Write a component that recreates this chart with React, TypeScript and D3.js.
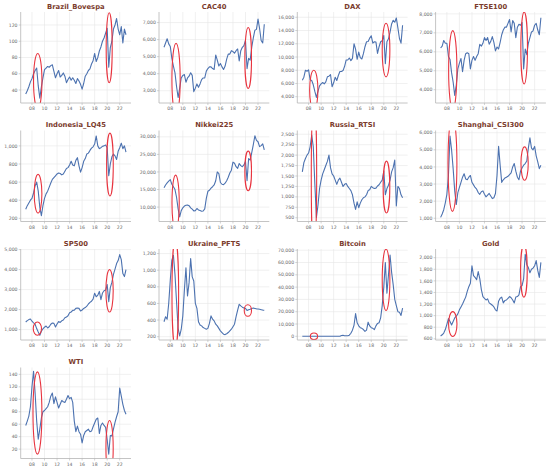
import * as d3 from "d3";
import React from "react";

// quarterly sampling, 2007Q1 .. 2023Q1
const quarters = d3.range(65).map((i) => 2007 + i / 4);
const yearTicks = [2008, 2010, 2012, 2014, 2016, 2018, 2020, 2022];
const yearLabels = ["08", "10", "12", "14", "16", "18", "20", "22"];

const brazil = [
  35, 39, 44, 50, 54, 60, 64, 67, 45, 30, 44, 55, 65, 67, 69, 68,
  70, 71, 63, 55, 60, 64, 56, 58, 61, 57, 49, 53, 56, 52, 55, 52,
  48, 54, 51, 47, 41, 48, 57, 60, 64, 66, 72, 76, 85, 75, 80, 88,
  93, 100, 104, 110, 116, 68, 92, 100, 115, 120, 128, 115, 108, 118, 98, 115,
  108,
];
const cac40 = [
  5550, 5800, 6050, 5750, 5600, 4900, 4450, 4050, 3250, 2600, 3150, 3750, 3900, 3950, 3500, 3750,
  3850, 4050, 3900, 2950, 3150, 3400, 3200, 3400, 3650, 3750, 3750, 4150, 4300, 4400, 4400, 4300,
  4250, 5100, 4800, 4450, 4600, 4400, 4250, 4450, 4850, 5150, 5150, 5350, 5300, 5200, 5350, 5450,
  4750, 5350, 5550, 5650, 5950, 4300, 4900, 4800, 5550, 6100, 6550, 6600, 7200, 6650, 5950, 5800,
  6900,
];
const dax = [
  6500, 6950, 8000, 7850, 8050, 6550, 6450, 5800, 4800, 3900, 4800, 5650, 5950, 6150, 5950, 6250,
  7000, 7100, 7350, 5500, 6100, 6950, 6450, 7200, 7800, 7800, 7950, 8600, 9550, 9550, 9850, 9450,
  9800, 12000, 11200, 9650, 10750, 9900, 9700, 10500, 11550, 12300, 12350, 12850, 13200, 12100, 12300, 12250,
  10550, 11550, 12300, 12450, 13250, 9000, 12300, 12750, 13750, 15000, 15550, 15250, 15900, 14400, 12800, 12100,
  14800,
];
const ftse100 = [
  6200, 6300, 6600, 6450, 6450, 5750, 5600, 4900, 4400, 3700, 4250, 5100, 5400, 5650, 4950, 5550,
  5900, 5950, 5900, 5100, 5550, 5750, 5550, 5750, 5900, 6400, 6300, 6450, 6750, 6600, 6750, 6400,
  6550, 6800, 6500, 6050, 6250, 6150, 6500, 6900, 7150, 7300, 7300, 7500, 7700, 7050, 7650, 7500,
  6750, 7300, 7450, 7400, 7550, 5100, 6150, 5850, 6450, 6750, 7050, 7100, 7400, 7500, 7150, 6900,
  7800,
];
const indonesia = [
  300, 340, 370, 400, 420, 480, 560, 600, 500, 320, 230, 340, 420, 470, 500, 545,
  590, 630, 650, 670, 690, 700, 695, 680, 690, 720, 750, 760, 790, 830, 790, 780,
  840, 870, 780, 710, 760, 830, 860, 910, 920, 950, 975, 990, 1020, 1110, 1000, 970,
  980, 995, 1000, 1010, 980, 670, 800, 880, 910, 890, 850, 940, 980, 1030, 970, 1000,
  930,
];
const nikkei = [
  15500, 16300, 16900, 17400, 17800, 16500, 15800, 15000, 12800, 9500, 7200, 9000, 9800, 10300, 10500, 10600,
  10400, 9800, 9400, 8900, 9000, 9600, 9200, 9000, 8800, 8900, 9500, 12500, 14500, 14800, 15400, 15800,
  16300, 17500, 20000, 19500, 17000, 16500, 16400, 16800, 17500, 18500, 19700, 20500, 22800, 22500, 21500, 21000,
  22400, 21800, 21500, 22000, 23000, 17500, 23800, 23400, 25500, 27800, 30300, 29000, 28600, 27200, 27500, 28000,
  26300,
];
const russia = [
  1600, 1820, 1920, 2000, 2050, 2200, 2480, 2200, 1300, 510, 800, 1200, 1400, 1550, 1650, 1750,
  1850, 2000, 1700, 1550, 1500, 1400, 1300, 1400, 1450, 1350, 1250, 1300, 1320, 1250, 1200, 1150,
  1050, 850, 700, 880, 740, 850, 930, 980, 1000, 1050, 1150, 1170, 1250, 1220, 1200, 1210,
  1260, 1290, 1350, 1400, 1620, 1050, 1200, 1280, 1400, 1600, 1700, 1880, 780, 1250, 1200, 1050,
  980,
];
const shanghai = [
  1050, 1250, 1500, 1900, 2400, 3500, 5800, 5000, 3900, 2600, 1800, 2500, 2800, 3100, 3400, 3600,
  3300, 3250, 3400, 3500, 3100, 2950, 2800, 2700, 2500, 2400, 2550, 2600, 2400, 2250, 2350, 2450,
  2300, 2150, 2200, 2450, 3500, 5200, 4100, 3100, 3250, 3350, 3400, 3450, 3550, 3650, 4000, 4200,
  3750, 3400, 3250, 3750, 3950, 4100, 4200, 4350, 5100, 5700, 5100, 5000, 5200, 4650, 4300, 3900,
  4100,
];
const sp500 = [
  1380, 1450, 1500, 1530, 1420, 1340, 1270, 1050, 880, 720, 920, 1040, 1120, 1180, 1080, 1140,
  1270, 1330, 1310, 1130, 1280, 1400, 1360, 1440, 1480, 1590, 1630, 1690, 1840, 1880, 1960, 1970,
  2060, 2080, 2060, 1930, 1980, 2060, 2100, 2170, 2280, 2360, 2420, 2520, 2820, 2640, 2720, 2910,
  2500, 2830, 2940, 2980, 3250, 2400, 3100, 3360, 3760, 4020, 4300, 4450, 4750, 4500, 3800, 3650,
  4000,
];
const ukraine = [
  380, 440, 410, 600, 880, 1120, 1180, 950, 620, 300, 210, 290, 450, 760, 1030, 690,
  850, 1140, 920, 870, 600, 540, 380, 340, 330, 310, 300, 290, 300, 360, 450, 410,
  390, 350, 330, 300, 270, 250, 230, 225, 235, 250, 270, 290, 320, 350, 440, 520,
  590, 570, 555, 545, 540, 515, 525, 530, 540, 545, 540, 535, 533, 530, 525, 520,
  518,
];
const bitcoin = [
  0, 0, 0, 0, 0, 0, 0, 0, 0, 0, 0, 0, 0, 0, 0, 0,
  0, 0, 0, 0, 0, 0, 0, 0, 100, 600, 800, 500, 400, 500, 900, 2500,
  5000, 9000, 18500, 11000, 8500, 7000, 6500, 5500, 4000, 5000, 11500, 8500, 7000, 6500, 5500, 8500,
  10500, 11000, 15000, 25000, 40000, 60000, 35000, 50000, 66000, 52000, 42000, 30000, 25000, 20000, 19500, 17000,
  23000,
];
const gold = [
  650, 670, 700, 760, 850, 950, 900, 840, 900, 960, 990, 1030, 1100, 1150, 1200, 1260,
  1320, 1420, 1500, 1560, 1860, 1690, 1660, 1620, 1760, 1640, 1450, 1330, 1300, 1270, 1290, 1220,
  1200, 1180, 1150, 1100, 1080, 1250, 1300, 1320, 1220, 1260, 1270, 1300, 1330, 1310, 1270, 1220,
  1320, 1330, 1360, 1500, 1520, 1640, 2060, 1880, 1830, 1740, 1800, 1820, 1860, 1950, 1780, 1660,
  1920,
];
const wti = [
  58, 65, 73, 88, 120, 145, 110, 65, 36, 52, 70, 80, 82, 85, 88, 95,
  105, 110, 93, 104, 95, 86, 92, 98, 96, 95, 100, 106, 101, 103, 95, 65,
  48, 57, 48, 44, 30, 42, 48, 50, 52, 48, 49, 56, 62, 68, 70, 45,
  58, 62, 58, 55, 35, 12, 42, 41, 52, 63, 72, 80, 118, 105, 92, 82,
  76,
];

// highlighted periods: centre (t, v) and radii (rt in years, rv in units)
type Ell = { t: number; v: number; rt: number; rv: number };
const brazilRings: Ell[] = [
  { t: 2008.92, v: 51, rt: 0.67, rv: 34 },
  { t: 2020.32, v: 92, rt: 0.48, rv: 43 },
];
const cacRings: Ell[] = [
  { t: 2008.92, v: 3680, rt: 0.66, rv: 2100 },
  { t: 2020.43, v: 4925, rt: 0.53, rv: 1785 },
];
const daxRings: Ell[] = [
  { t: 2008.83, v: 5000, rt: 0.66, rv: 3000 },
  { t: 2020.36, v: 11050, rt: 0.61, rv: 4050 },
];
const ftseRings: Ell[] = [
  { t: 2008.94, v: 5040, rt: 0.66, rv: 2080 },
  { t: 2020.33, v: 6200, rt: 0.53, rv: 1900 },
];
const indonesiaRings: Ell[] = [
  { t: 2008.97, v: 472, rt: 0.61, rv: 213 },
  { t: 2020.44, v: 794, rt: 0.53, rv: 347 },
];
const nikkeiRings: Ell[] = [
  { t: 2008.85, v: 11200, rt: 0.58, rv: 7900 },
  { t: 2020.43, v: 20300, rt: 0.53, rv: 5630 },
];
const russiaRings: Ell[] = [
  { t: 2008.86, v: 1500, rt: 0.43, rv: 1900 },
  { t: 2020.43, v: 1235, rt: 0.53, rv: 622 },
];
const shanghaiRings: Ell[] = [
  { t: 2008.89, v: 4200, rt: 0.71, rv: 2800 },
  { t: 2020.4, v: 4200, rt: 0.58, rv: 975 },
];
const spRings: Ell[] = [
  { t: 2008.86, v: 1050, rt: 0.66, rv: 330 },
  { t: 2020.38, v: 2940, rt: 0.58, rv: 1060 },
];
const ukraineRings: Ell[] = [
  { t: 2008.8, v: 720, rt: 0.53, rv: 650 },
  { t: 2020.38, v: 515, rt: 0.58, rv: 70 },
];
const bitcoinRings: Ell[] = [
  { t: 2008.86, v: 0, rt: 0.58, rv: 2700 },
  { t: 2020.36, v: 46000, rt: 0.61, rv: 25000 },
];
const goldRings: Ell[] = [
  { t: 2008.94, v: 855, rt: 0.67, rv: 215 },
  { t: 2020.29, v: 1770, rt: 0.53, rv: 450 },
];
const wtiRings: Ell[] = [
  { t: 2008.87, v: 78, rt: 0.71, rv: 66 },
  { t: 2020.38, v: 22, rt: 0.58, rv: 44 },
];

const panels = [
  { name: "Brazil_Bovespa", values: brazil, domain: [24, 136], ticks: [40, 60, 80, 100, 120], rings: brazilRings },
  { name: "CAC40", values: cac40, domain: [2280, 7620], ticks: [3000, 4000, 5000, 6000, 7000], rings: cacRings },
  { name: "DAX", values: dax, domain: [3050, 16800], ticks: [4000, 6000, 8000, 10000, 12000, 14000, 16000], rings: daxRings },
  { name: "FTSE100", values: ftse100, domain: [3300, 8100], ticks: [4000, 5000, 6000, 7000, 8000], rings: ftseRings },
  { name: "Indonesia_LQ45", values: indonesia, domain: [165, 1170], ticks: [200, 400, 600, 800, 1000], rings: indonesiaRings },
  { name: "Nikkei225", values: nikkei, domain: [5900, 31800], ticks: [10000, 15000, 20000, 25000, 30000], rings: nikkeiRings },
  { name: "Russia_RTSI", values: russia, domain: [410, 2590], ticks: [500, 750, 1000, 1250, 1500, 1750, 2000, 2250, 2500], rings: russiaRings },
  { name: "Shanghai_CSI300", values: shanghai, domain: [810, 6130], ticks: [1000, 2000, 3000, 4000, 5000, 6000], rings: shanghaiRings },
  { name: "SP500", values: sp500, domain: [480, 5030], ticks: [1000, 2000, 3000, 4000, 5000], rings: spRings },
  { name: "Ukraine_PFTS", values: ukraine, domain: [160, 1255], ticks: [200, 400, 600, 800, 1000, 1200], rings: ukraineRings },
  { name: "Bitcoin", values: bitcoin, domain: [-3000, 71000], ticks: [0, 10000, 20000, 30000, 40000, 50000, 60000, 70000], rings: bitcoinRings },
  { name: "Gold", values: gold, domain: [580, 2150], ticks: [600, 800, 1000, 1200, 1400, 1600, 1800, 2000], rings: goldRings },
  { name: "WTI", values: wti, domain: [5, 151], ticks: [20, 40, 60, 80, 100, 120, 140], rings: wtiRings },
];

const W = 550;
const H = 471;
const COL = 138.3;
const ROW = 118.5;
const PL = 20.7;
const PT = 12;
const PW = 110.3;
const PH = 91;
const xDomain = [2006.2, 2023.8];
const fmt = d3.format(",");

const LINE = "#4c72b0";
const RING = "#e8343f";
const GRID = "#e6e6e6";
const AXIS = "#b5b5b5";
const LABEL = "#6a6a6a";
const TITLE = "#7b3b2c";
const FONT = "DejaVu Sans, sans-serif";

const Panel: React.FC<{ p: (typeof panels)[number]; idx: number }> = ({ p, idx }) => {
  const col = idx % 4;
  const row = Math.floor(idx / 4);
  const x = d3.scaleLinear().domain(xDomain).range([0, PW]);
  const y = d3.scaleLinear().domain(p.domain).range([PH, 0]);
  const path = d3
    .line<number>()
    .x((_, i) => x(quarters[i]))
    .y((d) => y(d))(p.values);
  const clip = `clip-${idx}`;

  return (
    <g transform={`translate(${col * COL + PL},${row * ROW + PT})`}>
      <defs>
        <clipPath id={clip}>
          <rect x={0} y={0} width={PW} height={PH} />
        </clipPath>
      </defs>
      <text x={PW / 2} y={-3.3} textAnchor="middle" fontSize={6.8} fontWeight="bold" fill={TITLE}>
        {p.name}
      </text>
      {yearTicks.map((t) => (
        <line key={`gx${t}`} x1={x(t)} x2={x(t)} y1={0} y2={PH} stroke={GRID} strokeWidth={0.6} />
      ))}
      {p.ticks.map((v) => (
        <line key={`gy${v}`} x1={0} x2={PW} y1={y(v)} y2={y(v)} stroke={GRID} strokeWidth={0.6} />
      ))}
      <g clipPath={`url(#${clip})`}>
        <path d={path ?? ""} fill="none" stroke={LINE} strokeWidth={1.1} strokeLinejoin="round" />
        {p.rings.map((e, i) => (
          <ellipse
            key={i}
            cx={x(e.t)}
            cy={y(e.v)}
            rx={x(e.t + e.rt) - x(e.t)}
            ry={y(e.v) - y(e.v + e.rv)}
            fill="none"
            stroke={RING}
            strokeWidth={1.1}
          />
        ))}
      </g>
      <line x1={0} x2={0} y1={0} y2={PH} stroke={AXIS} strokeWidth={0.8} />
      <line x1={0} x2={PW} y1={PH} y2={PH} stroke={AXIS} strokeWidth={0.8} />
      {p.ticks.map((v) => (
        <g key={`ty${v}`} transform={`translate(0,${y(v)})`}>
          <line x1={-2} x2={0} stroke={AXIS} strokeWidth={0.6} />
          <text x={-3.2} dy="0.35em" textAnchor="end" fontSize={4.6} fill={LABEL}>
            {fmt(v)}
          </text>
        </g>
      ))}
      {yearTicks.map((t, i) => (
        <g key={`tx${t}`} transform={`translate(${x(t)},${PH})`}>
          <line y1={0} y2={2} stroke={AXIS} strokeWidth={0.6} />
          <text y={7.4} textAnchor="middle" fontSize={4.6} fill={LABEL}>
            {yearLabels[i]}
          </text>
        </g>
      ))}
    </g>
  );
};

const App: React.FC = () => (
  <div style={{ position: "absolute", left: 0, top: 0, width: W, height: H, background: "#fff" }}>
    <svg width={W} height={H} style={{ display: "block", fontFamily: FONT }}>
      <rect width={W} height={H} fill="#fff" />
      {panels.map((p, i) => (
        <Panel key={p.name} p={p} idx={i} />
      ))}
    </svg>
  </div>
);

export default App;
